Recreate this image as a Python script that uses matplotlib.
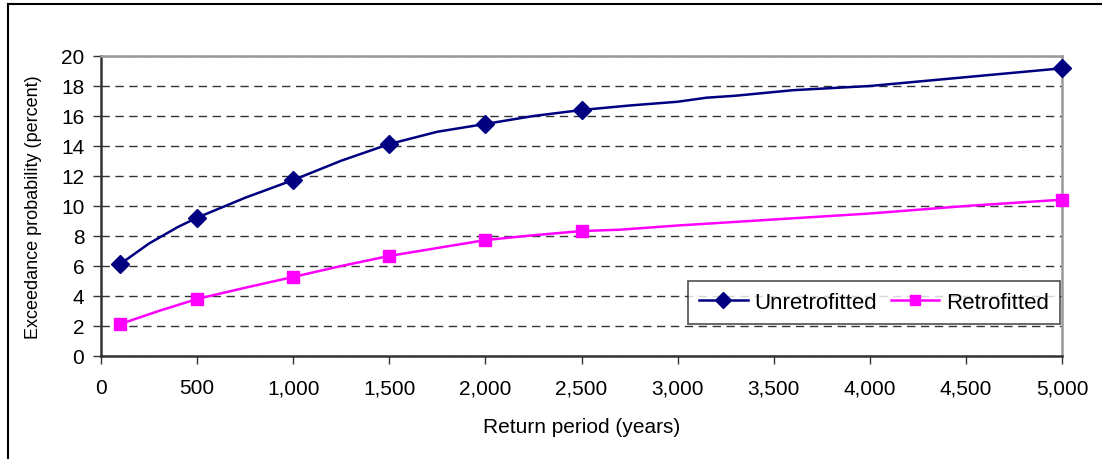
import matplotlib
matplotlib.use('Agg')
import matplotlib.pyplot as plt
from matplotlib.lines import Line2D
from matplotlib.ticker import FuncFormatter

plt.rcParams['font.family'] = ['Liberation Sans', 'DejaVu Sans']

# return period (years) and exceedance probability (percent)
unretro_years = [100, 250, 400, 500, 750, 1000, 1250, 1500, 1750, 2000, 2250,
                 2500, 2750, 3000, 3150, 3300, 3600, 3800, 4000, 5000]
unretro_pct = [6.13, 7.5, 8.6, 9.22, 10.55, 11.73, 13.02, 14.13, 14.95, 15.47, 16.0,
               16.4, 16.7, 16.95, 17.22, 17.35, 17.72, 17.86, 18.0, 19.18]
unretro_marked = [0, 3, 5, 7, 9, 11, 19]

retro_years = [100, 300, 500, 750, 1000, 1250, 1500, 1750, 2000, 2250, 2500,
               2700, 3000, 3500, 4000, 4500, 5000]
retro_pct = [2.13, 3.0, 3.8, 4.55, 5.27, 6.0, 6.67, 7.2, 7.73, 8.05, 8.33,
             8.42, 8.7, 9.1, 9.5, 10.0, 10.42]
retro_marked = [0, 2, 4, 6, 8, 10, 16]

x_ticks = list(range(0, 5001, 500))
y_ticks = list(range(0, 21, 2))

fig = plt.figure(figsize=(11.02, 4.6), dpi=100)
ax = fig.add_axes([101 / 1102, 1 - 357 / 460, 961 / 1102, 300 / 460])

ax.plot(unretro_years, unretro_pct, color='#000080', lw=1.8, marker='D', ms=9,
        markevery=unretro_marked, label='Unretrofitted', zorder=4, clip_on=False)
ax.plot(retro_years, retro_pct, color='#FF00FF', lw=1.8, marker='s', ms=8.5,
        markevery=retro_marked, label='Retrofitted', zorder=4, clip_on=False)

ax.set_xlim(0, 5000)
ax.set_ylim(0, 20)
ax.set_xticks(x_ticks)
ax.set_yticks(y_ticks)
ax.xaxis.set_major_formatter(FuncFormatter(lambda v, p: f'{int(v):,}'))
ax.tick_params(axis='both', direction='out', length=6, width=1, labelsize=15,
               color='#333333', pad=6)
ax.tick_params(axis='x', pad=10)

ax.yaxis.grid(True, linestyle=(0, (6, 4)), color='#333333', lw=1)
ax.set_axisbelow(True)

for s in ['left', 'bottom']:
    ax.spines[s].set_color('#333333')
    ax.spines[s].set_linewidth(1.8)
for s in ['top', 'right']:
    ax.spines[s].set_color('#999999')
    ax.spines[s].set_linewidth(1.8)

ax.set_xlabel('Return period (years)', fontsize=15, labelpad=14)
ax.set_ylabel('Exceedance probability (percent)', fontsize=13, labelpad=14)

leg = ax.legend(loc='lower right', bbox_to_anchor=(0.998, 0.107), ncol=2,
                fontsize=16, frameon=True, fancybox=False, borderpad=0.5,
                borderaxespad=0, handlelength=2.2, columnspacing=0.6,
                handletextpad=0.3, markerscale=0.85)
leg.get_frame().set_edgecolor('#222222')
leg.get_frame().set_linewidth(1.2)

# outer chart border (top and left visible)
fig.add_artist(Line2D([8 / 1102, 8 / 1102], [0, 1 - 5 / 460], color='black', lw=1.5))
fig.add_artist(Line2D([8 / 1102, 1], [1 - 5 / 460, 1 - 5 / 460], color='black', lw=1.5))

fig.savefig('out.png', dpi=100)
